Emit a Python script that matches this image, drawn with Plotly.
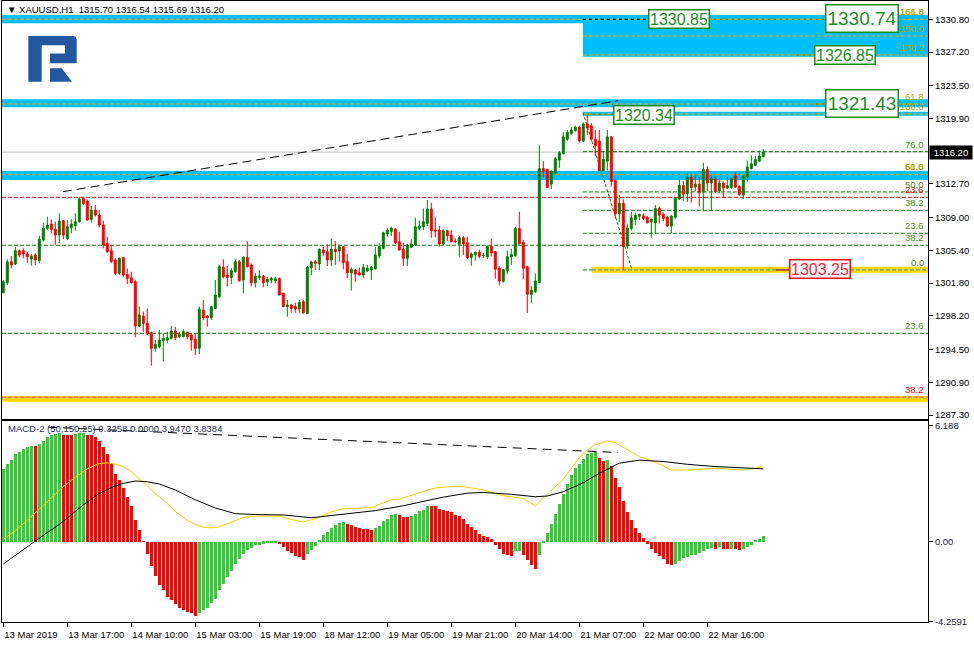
import plotly.graph_objects as go

# ---------------- DATA ----------------
opens = [1300.75,1301.84,1304.15,1303.90,1305.36,1305.36,1305.00,1304.45,1304.89,1304.26,
1306.53,1307.82,1308.29,1307.71,1307.08,1308.66,1306.68,1307.89,1308.11,1308.55,
1311.11,1310.82,1308.81,1309.83,1309.28,1308.18,1306.17,1305.36,1304.34,1302.87,
1304.59,1302.76,1302.39,1301.95,1297.08,1298.18,1297.37,1296.35,1294.63,1294.81,
1295.47,1295.54,1295.73,1296.53,1295.91,1295.91,1296.39,1296.09,1295.62,1294.63,
1298.84,1298.18,1298.03,1299.02,1300.31,1303.53,1302.69,1302.43,1303.05,1304.15,
1302.14,1304.63,1303.79,1301.84,1302.43,1302.58,1301.95,1302.14,1302.06,1302.32,
1300.67,1299.21,1299.39,1299.21,1298.95,1299.76,1298.47,1303.53,1304.15,1303.90,
1305.44,1305.25,1304.34,1305.51,1305.36,1305.80,1304.15,1302.94,1303.24,1302.94,
1302.69,1303.13,1303.24,1303.35,1304.78,1305.62,1307.19,1307.45,1307.74,1306.35,
1305.51,1304.52,1305.73,1305.99,1307.82,1308.00,1308.37,1309.94,1307.63,1307.63,
1306.10,1307.56,1307.08,1306.42,1306.06,1306.79,1306.24,1304.63,1304.93,1305.19,
1304.85,1304.70,1305.86,1305.26,1303.44,1302.00,1303.15,1304.70,1304.82,1307.79,
1306.30,1303.59,1300.55,1300.85,1301.85,1314.39,1314.28,1312.68,1313.91,1315.32,
1316.02,1317.62,1318.25,1318.55,1318.92,1317.43,1319.29,1319.10,1317.62,1317.43,
1314.17,1315.21,1317.88,1313.05,1309.45,1310.57,1305.86,1307.79,1308.79,1309.16,
1309.20,1309.05,1308.53,1308.42,1310.01,1309.38,1309.01,1308.08,1309.05,1311.05,
1312.53,1311.64,1313.43,1312.35,1312.68,1311.80,1314.28,1312.79,1313.24,1311.94,
1312.79,1312.24,1312.31,1313.61,1312.42,1311.50,1313.50,1314.39,1314.76,1315.21,
1315.70]
highs = [1302.14,1304.41,1304.78,1305.80,1305.51,1305.62,1305.25,1305.00,1305.07,1306.97,
1308.44,1309.10,1308.81,1308.55,1309.47,1308.73,1308.73,1308.81,1309.47,1311.22,
1311.30,1311.00,1310.27,1310.38,1309.83,1308.66,1306.90,1305.99,1304.52,1304.63,
1304.70,1303.42,1303.05,1302.14,1299.21,1298.66,1299.02,1296.46,1295.54,1296.64,
1296.28,1296.46,1297.08,1297.01,1296.46,1296.72,1296.46,1296.28,1296.28,1299.21,
1299.94,1298.29,1299.28,1302.14,1303.79,1304.41,1303.68,1303.42,1304.41,1304.34,
1304.78,1306.42,1303.97,1302.87,1303.24,1302.69,1302.50,1302.50,1302.50,1302.39,
1300.75,1299.94,1299.50,1299.65,1299.94,1299.94,1303.68,1304.26,1304.34,1305.62,
1305.80,1306.06,1306.72,1306.42,1306.06,1305.88,1305.00,1303.53,1303.31,1303.53,
1303.90,1303.79,1303.68,1305.80,1306.17,1307.45,1307.82,1308.00,1307.82,1307.45,
1306.24,1306.10,1306.61,1308.99,1308.66,1310.02,1310.93,1310.64,1309.03,1308.07,
1307.71,1307.63,1307.63,1306.72,1306.97,1306.97,1306.90,1305.19,1305.26,1305.48,
1305.11,1305.93,1306.67,1305.26,1303.70,1303.33,1305.37,1305.56,1307.97,1309.64,
1306.56,1303.70,1301.48,1302.85,1316.95,1315.21,1314.39,1314.20,1315.65,1316.32,
1318.36,1318.62,1318.92,1319.10,1319.10,1319.47,1320.34,1319.36,1318.62,1318.62,
1316.32,1318.62,1317.99,1313.17,1311.50,1311.00,1308.34,1309.64,1309.57,1309.45,
1309.45,1309.20,1308.90,1310.38,1310.20,1309.57,1309.20,1309.27,1311.20,1313.17,
1313.05,1313.91,1313.72,1313.72,1313.43,1315.02,1314.65,1313.72,1313.54,1313.17,
1312.98,1313.43,1313.43,1313.98,1312.54,1313.72,1315.28,1315.84,1315.76,1316.39,
1316.54]
lows = [1300.67,1301.59,1303.42,1303.79,1304.63,1304.52,1304.04,1303.71,1303.79,1303.97,
1306.35,1307.63,1307.27,1305.99,1306.17,1306.61,1306.53,1307.27,1307.56,1308.44,
1310.38,1308.66,1308.44,1309.10,1307.93,1305.62,1305.14,1304.04,1302.69,1302.69,
1302.50,1301.70,1301.77,1295.84,1297.01,1296.46,1296.09,1292.72,1294.26,1294.63,
1293.16,1295.18,1295.62,1295.54,1295.73,1295.84,1295.62,1294.37,1293.89,1294.00,
1297.74,1297.01,1297.74,1299.02,1300.12,1302.32,1301.41,1301.70,1302.94,1301.95,
1300.67,1303.53,1301.41,1301.33,1302.14,1301.33,1301.48,1301.77,1301.77,1300.45,
1299.13,1298.11,1298.55,1298.55,1298.55,1298.40,1298.47,1302.69,1303.24,1303.24,
1304.78,1303.68,1303.68,1303.79,1304.15,1303.31,1302.32,1300.97,1301.95,1302.69,
1302.32,1303.05,1302.14,1303.31,1304.52,1305.51,1306.90,1306.97,1306.10,1305.36,
1303.68,1303.68,1305.62,1305.88,1307.63,1307.63,1308.07,1306.79,1306.83,1305.80,
1305.99,1306.42,1306.28,1306.17,1304.70,1304.89,1304.45,1303.70,1304.26,1304.52,
1304.56,1304.45,1304.74,1302.29,1301.55,1301.85,1302.78,1303.81,1304.70,1306.04,
1302.22,1298.51,1299.62,1300.73,1301.85,1313.43,1312.24,1312.13,1313.72,1314.46,
1315.95,1317.43,1318.10,1318.47,1317.25,1317.32,1318.10,1317.43,1315.76,1314.09,
1314.09,1314.17,1312.42,1308.90,1308.53,1303.25,1305.56,1307.60,1308.16,1308.71,
1308.71,1308.34,1306.78,1307.23,1308.34,1308.60,1307.97,1307.30,1308.82,1310.94,
1310.83,1310.75,1310.64,1311.87,1310.27,1309.71,1311.87,1309.75,1311.68,1311.68,
1311.13,1312.13,1312.16,1312.24,1311.42,1311.01,1312.98,1314.28,1314.65,1315.13,
1315.69]
closes = [1301.95,1304.15,1303.79,1305.36,1304.89,1305.00,1304.70,1304.78,1304.34,1306.61,
1307.82,1308.18,1307.71,1307.08,1308.62,1307.08,1308.00,1308.29,1308.55,1311.04,
1310.56,1308.73,1309.83,1309.28,1308.18,1305.99,1305.25,1304.15,1302.87,1304.52,
1302.69,1302.32,1301.84,1297.08,1298.29,1297.37,1296.20,1294.63,1295.07,1295.54,
1295.73,1295.80,1296.53,1295.80,1296.17,1296.46,1295.91,1295.54,1294.63,1298.95,
1298.00,1298.03,1299.21,1300.49,1303.60,1302.50,1302.43,1303.16,1304.15,1302.06,
1304.63,1303.60,1301.84,1302.58,1302.58,1301.84,1302.21,1302.32,1302.28,1300.49,
1299.21,1299.39,1299.02,1298.95,1299.68,1298.55,1303.53,1304.12,1303.97,1305.51,
1305.14,1304.34,1305.51,1305.25,1305.80,1304.04,1302.94,1303.31,1302.80,1302.69,
1303.53,1303.42,1303.53,1304.89,1305.80,1307.34,1307.63,1307.82,1306.24,1305.44,
1304.52,1305.99,1306.10,1308.00,1308.07,1308.55,1309.94,1307.56,1307.52,1306.10,
1307.56,1307.01,1306.35,1306.35,1306.79,1306.10,1304.59,1305.00,1305.19,1304.74,
1304.85,1305.86,1305.11,1303.33,1302.03,1303.26,1304.70,1304.93,1307.79,1306.12,
1303.44,1300.55,1301.03,1302.03,1314.39,1314.09,1312.31,1314.09,1315.47,1316.13,
1317.88,1318.36,1318.62,1318.92,1317.43,1319.29,1318.84,1317.62,1316.88,1314.17,
1315.39,1317.88,1312.98,1309.45,1310.57,1305.80,1307.86,1308.97,1309.27,1309.34,
1308.90,1308.45,1308.79,1310.01,1309.27,1308.90,1308.08,1309.16,1311.13,1312.53,
1311.57,1313.43,1312.31,1312.68,1311.76,1314.28,1312.79,1313.28,1311.87,1312.79,
1312.24,1312.50,1313.28,1312.35,1311.50,1313.61,1314.54,1314.91,1315.36,1315.76,
1316.20]

macd_hist = [3.91,4.18,4.39,4.67,4.82,4.96,5.05,5.12,5.10,5.23,
5.40,5.58,5.72,5.75,5.81,5.72,5.71,5.70,5.75,5.82,
5.83,5.72,5.70,5.61,5.40,5.05,4.67,4.18,3.65,3.30,
2.86,2.42,1.93,1.19,0.63,0.05,-0.65,-1.26,-1.79,-2.28,
-2.58,-2.93,-3.11,-3.33,-3.51,-3.63,-3.72,-3.81,-3.93,-3.81,
-3.63,-3.51,-3.28,-3.05,-2.58,-2.23,-1.88,-1.53,-1.18,-0.91,
-0.65,-0.42,-0.30,-0.18,-0.14,-0.09,-0.05,-0.03,-0.02,-0.12,
-0.25,-0.47,-0.60,-0.74,-0.82,-0.95,-0.65,-0.42,-0.21,0.11,
0.35,0.53,0.74,0.88,1.02,1.05,0.98,0.91,0.81,0.75,
0.70,0.67,0.66,0.74,0.84,1.11,1.25,1.46,1.51,1.46,
1.35,1.34,1.36,1.51,1.63,1.72,1.93,1.92,1.91,1.77,
1.72,1.67,1.58,1.46,1.37,1.25,0.98,0.79,0.63,0.45,
0.32,0.25,0.16,-0.14,-0.39,-0.63,-0.68,-0.75,-0.50,-0.49,
-0.71,-0.98,-1.25,-1.46,-0.68,-0.04,0.48,0.95,1.50,2.00,
2.55,3.07,3.57,3.93,4.14,4.43,4.70,4.77,4.78,4.50,
4.34,4.38,4.05,3.39,2.91,2.18,1.61,1.16,0.75,0.50,
0.21,-0.09,-0.39,-0.57,-0.75,-0.93,-1.16,-1.25,-1.18,-1.04,
-0.86,-0.80,-0.68,-0.67,-0.57,-0.46,-0.39,-0.32,-0.39,-0.29,
-0.39,-0.40,-0.36,-0.37,-0.45,-0.39,-0.27,-0.14,0.07,0.18,
0.33]

macd_line_bar = [0,3,6,9,12,15,18,21,24,26,28,30,32,34,36,38,40,43,46,48,50,52,54,56,58,60,63,66,69,72,75,78,
82,85,89,92,97,99,104,108,112,114,117,120,125,130,133,136,140,144,146,148,151,153,155,159,163,167,172,178,185,188,190]
macd_line_val = [0.14,0.60,1.15,1.75,2.35,2.95,3.45,3.90,4.18,4.22,4.15,4.02,3.75,3.40,3.00,2.58,2.25,1.63,1.15,0.93,0.78,0.75,0.80,0.98,1.15,1.30,1.38,1.40,1.38,1.20,1.06,1.24,
1.60,1.77,1.80,1.83,2.25,2.28,2.63,2.88,2.95,2.98,2.88,2.77,2.47,2.32,1.93,2.55,3.35,4.50,4.90,5.18,5.39,5.30,5.05,4.55,4.25,3.84,3.84,3.93,3.84,3.93,4.05]

signal_bar = [0,4,8,11,14,17,20,24,27,30,33,36,39,43,48,53,58,63,70,77,85,93,100,106,110,116,120,127,133,136,140,145,149,154,159,165,171,178,184,190]
signal_val = [-1.18,-0.55,0.05,0.50,0.93,1.45,1.98,2.58,2.90,3.12,3.25,3.21,3.09,2.77,2.25,1.81,1.51,1.46,1.44,1.29,1.46,1.67,1.93,2.21,2.39,2.60,2.64,2.54,2.41,2.45,2.68,3.16,3.66,4.20,4.36,4.29,4.14,4.02,3.96,3.90]

tick_bars = [0,16,32,48,64,80,96,112,128,144,160,176]
tick_labels = ["13 Mar 2019","13 Mar 17:00","14 Mar 10:00","15 Mar 03:00","15 Mar 19:00","18 Mar 12:00",
               "19 Mar 05:00","19 Mar 21:00","20 Mar 14:00","21 Mar 07:00","22 Mar 00:00","22 Mar 16:00"]
price_ticks = [1330.80,1327.20,1323.50,1319.90,1312.70,1309.00,1305.40,1301.80,1298.20,1294.50,1290.90,1287.30]
macd_ticks = [6.188,0.0,-4.2591]
macd_tick_labels = ["6.188","0.00","-4.2591"]

last_price = 1316.20
header = "XAUUSD,H1  1315.70 1316.54 1315.69 1316.20"
macd_header = "MACD-2 (50,150,25) 0.3258 0.0000 3.9470 3.8384"

# horizontal levels: full-width (long-term tools) and right-hand (short-term tool)
full_levels = [1330.80, 1321.49, 1313.74, 1311.23, 1305.96, 1296.28, 1289.25]
full_labels = [["161.8","166.6"], ["61.8"], ["61.8","50.0"], ["23.6"], ["38.2"], ["23.6"], ["38.2"]]
part_levels = [1328.96, 1326.87, 1320.39, 1316.25, 1311.82, 1309.80, 1307.28, 1303.25]
part_labels = ["150.0", "138.2", "100.0", "76.0", "50.0", "38.2", "23.6", "0.0"]
full_bands = [(1330.36, 1331.27), (1321.13, 1322.01), (1313.13, 1314.12)]
gold_band_low = (1288.76, 1289.39)
part_box = (1326.69, 1331.27)
thin_band = (1320.20, 1320.64)
gold_band_fib = (1302.94, 1303.60)
fib_start_bar = 144.9
fib_high = 1320.34
fib_low = 1303.25
fib_low_bar = 157.2
trend_main = [(14.9, 1311.85), (153.7, 1321.85)]
trend_macd = [(11.2, 6.12), (153.7, 4.77)]
price_boxes = [("1330.85", 168.9, 1330.80, "s", "g"), ("1330.74", 214.6, 1330.89, "L", "g"),
               ("1326.85", 210.3, 1326.87, "s", "g"), ("1321.43", 214.7, 1321.49, "L", "g"),
               ("1320.34", 160.05, 1320.28, "s", "g"), ("1303.25", 204.2, 1303.30, "s", "r")]

# ---------------- LAYOUT GEOMETRY ----------------
W, H = 974, 648
ML, MR, MT, MB = 2, 46, 1, 26
PW, PH = W - ML - MR, H - MT - MB
def px(x):  # image pixel -> paper x
    return (x - ML) / PW
def py(y):  # image pixel -> paper y
    return (H - MB - y) / PH
def bar_of(xpix):
    return (xpix - 3.3) / 4.0

XR = [bar_of(ML), bar_of(W - MR)]
FONT = "Liberation Sans, Arial, sans-serif"
GREEN_C = "#008000"
RED_C = "#ff0000"
BLUE_BAND = "#00bfff"
GOLD = "#ffd700"
ORANGE = "#ffa500"
DGREEN = "#1f7a1f"
LBL_Y = "#b3a100"
LBL_G = "#4f8a1c"

n = len(opens)
xs = list(range(n))
hist_colors = ["#32cd32" if (i == 0 or macd_hist[i] >= macd_hist[i-1]) else RED_C for i in range(n)]

fig = go.Figure()
fig.add_trace(go.Candlestick(
    x=xs, open=opens, high=highs, low=lows, close=closes,
    increasing=dict(line=dict(color=GREEN_C, width=1), fillcolor=GREEN_C),
    decreasing=dict(line=dict(color=RED_C, width=1), fillcolor=RED_C),
    whiskerwidth=0, hoverinfo="skip", xaxis="x", yaxis="y", showlegend=False))
fig.add_trace(go.Bar(x=xs, y=macd_hist, marker=dict(color=hist_colors, line=dict(width=0)),
                     width=0.75, xaxis="x2", yaxis="y2", hoverinfo="skip", showlegend=False))
fig.add_trace(go.Scatter(x=macd_line_bar, y=macd_line_val, mode="lines",
                         line=dict(color="#ffcc00", width=1), xaxis="x2", yaxis="y2",
                         hoverinfo="skip", showlegend=False))
fig.add_trace(go.Scatter(x=signal_bar, y=signal_val, mode="lines",
                         line=dict(color="#000000", width=1), xaxis="x2", yaxis="y2",
                         hoverinfo="skip", showlegend=False))

shapes = []
def hrect(x0, x1, y0, y1, color, xref="x", yref="y"):
    shapes.append(dict(type="rect", xref=xref, yref=yref, x0=x0, x1=x1, y0=y0, y1=y1,
                       fillcolor=color, line=dict(width=0), layer="below"))
def hline(x0, x1, y, color, dash="4px,2px", width=1, xref="x", yref="y"):
    shapes.append(dict(type="line", xref=xref, yref=yref, x0=x0, x1=x1, y0=y, y1=y,
                       line=dict(color=color, width=width, dash=dash), layer="below"))

# bands
for lo, hi in full_bands:
    hrect(XR[0], XR[1], lo, hi, BLUE_BAND)
hrect(XR[0], XR[1], gold_band_low[0], gold_band_low[1], GOLD)
hrect(fib_start_bar, XR[1], part_box[0], part_box[1], BLUE_BAND)
hrect(fib_start_bar, XR[1], thin_band[0], thin_band[1], BLUE_BAND)
hrect(bar_of(592), XR[1], gold_band_fib[0], gold_band_fib[1], GOLD)

# current bid line
hline(XR[0], XR[1], last_price, "#c0c0c0", dash="solid")

# connectors to price boxes
hline(bar_of(709), bar_of(826), 1330.80, "#2e9e2e", dash="solid")
hline(bar_of(795), bar_of(814), 1326.87, "#2e9e2e", dash="solid")
hline(bar_of(812), bar_of(826), 1321.49, "#2e9e2e", dash="solid")
hline(bar_of(590), bar_of(613), 1320.34, "#2e9e2e", dash="solid")
hline(bar_of(776), bar_of(790), 1303.25, RED_C, dash="solid", width=1.5)

# full-width level lines
full_colors = [ORANGE, ORANGE, ORANGE, "#e01010", DGREEN, DGREEN, "#ff33cc"]
for lv, c in zip(full_levels, full_colors):
    hline(XR[0], XR[1], lv, c)
hline(fib_start_bar, bar_of(649), 1330.80, "#000000", dash="3px,3px")
# short-term fib lines
for lv in part_levels:
    if lv in (1328.96, 1326.87, 1320.39):
        hline(fib_start_bar, XR[1], lv, ORANGE)
    elif lv == fib_low:
        hline(fib_start_bar, bar_of(592), lv, DGREEN)
        hline(bar_of(592), XR[1], lv, "#1e90ff")
    else:
        hline(fib_start_bar, XR[1], lv, DGREEN)

# trend lines
shapes.append(dict(type="line", xref="x", yref="y", x0=trend_main[0][0], y0=trend_main[0][1],
                   x1=trend_main[1][0], y1=trend_main[1][1],
                   line=dict(color="#000000", width=1, dash="9px,5px"), layer="below"))
shapes.append(dict(type="line", xref="x", yref="y", x0=fib_start_bar, y0=fib_high + 0.2,
                   x1=fib_low_bar, y1=fib_low,
                   line=dict(color=GREEN_C, width=1, dash="3px,2px"), layer="below"))
shapes.append(dict(type="line", xref="x2", yref="y2", x0=trend_macd[0][0], y0=trend_macd[0][1],
                   x1=trend_macd[1][0], y1=trend_macd[1][1],
                   line=dict(color="#000000", width=1, dash="9px,6px"), layer="above"))

# logo (RoboForex style "R")
def path(points):
    s = "M " + " L ".join(f"{px(x):.5f},{py(y):.5f}" for x, y in points) + " Z"
    return s
logo_main = [(28.3, 36), (73.5, 36), (75.8, 37), (76.7, 39.5), (76.7, 63.3), (50, 63.3), (50, 53.5),
             (65, 53.5), (65, 45.3), (41.7, 45.3), (41.7, 81.7), (28.3, 81.7)]
logo_leg = [(50, 68.3), (61.7, 68.3), (72, 81.7), (50, 81.7)]
for pts in (logo_main, logo_leg):
    shapes.append(dict(type="path", xref="paper", yref="paper", path=path(pts),
                       fillcolor="#23579f", line=dict(width=0), layer="above"))

annotations = []
# header texts
annotations.append(dict(xref="paper", yref="paper", x=px(5), y=py(10), xanchor="left", yanchor="middle",
                        text="▼ " + header, showarrow=False,
                        font=dict(family=FONT, size=9.5, color="#000000")))
annotations.append(dict(xref="paper", yref="paper", x=px(6), y=py(429), xanchor="left", yanchor="middle",
                        text=macd_header, showarrow=False,
                        font=dict(family=FONT, size=9.5, color="#1f2f55")))
# level labels
lblx = px(926)
full_label_colors = [LBL_Y, LBL_Y, LBL_Y, RED_C, LBL_G, LBL_G, RED_C]
for lv, labs, c in zip(full_levels, full_labels, full_label_colors):
    for t in labs:
        annotations.append(dict(xref="paper", yref="y", x=lblx, y=lv, xanchor="right", yanchor="bottom",
                                text=t, showarrow=False, font=dict(family=FONT, size=9.5, color=c)))
for lv, t in zip(part_levels, part_labels):
    c = LBL_Y if lv in (1328.96, 1326.87, 1320.39) else LBL_G
    annotations.append(dict(xref="paper", yref="y", x=lblx, y=lv, xanchor="right", yanchor="bottom",
                            text=t, showarrow=False, font=dict(family=FONT, size=9.5, color=c)))
# price boxes
for t, bx, by, sz, col in price_boxes:
    c = "#1d8f1d" if col == "g" else "#ff1a3c"
    bc = "#1a8a1a" if col == "g" else "#ff0000"
    if sz == "L":
        f = dict(family=FONT, size=19, color=c)
        w, h = 69, 24
    else:
        f = dict(family=FONT, size=16, color=c)
        w, h = 57, 15
    annotations.append(dict(xref="x", yref="y", x=bx, y=by, xanchor="center", yanchor="middle",
                            text=t, showarrow=False, font=f, bgcolor="#ffffff",
                            bordercolor=bc, borderwidth=1.5, borderpad=1, width=w, height=h))
# current price box
annotations.append(dict(xref="paper", yref="y", x=1, y=last_price, xanchor="left", yanchor="middle",
                        xshift=1, text=f"{last_price:.2f}", showarrow=False, bgcolor="#000000",
                        font=dict(family=FONT, size=9.5, color="#ffffff"), borderpad=1, width=40))

main_dom = [py(419), 1]
macd_dom = [0, py(421)]
axis_common = dict(showgrid=False, zeroline=False, showline=True, linecolor="#000000",
                   linewidth=1, mirror=True, automargin=False)
fig.update_layout(
    width=W, height=H, margin=dict(l=ML, r=MR, t=MT, b=MB, autoexpand=False),
    paper_bgcolor="#ffffff", plot_bgcolor="#ffffff",
    showlegend=False, hovermode=False, bargap=0,
    font=dict(family=FONT, size=9.5, color="#000000"),
    xaxis=dict(domain=[0, 1], anchor="y", range=XR, showticklabels=False, ticks="",
               rangeslider=dict(visible=False), **axis_common),
    yaxis=dict(domain=main_dom, anchor="x", side="right", range=[1286.86, 1332.81],
               tickvals=price_ticks, ticktext=[f"{v:.2f}" for v in price_ticks],
               ticks="outside", ticklen=4, tickcolor="#000000",
               tickfont=dict(family=FONT, size=9.5, color="#000000"), **axis_common),
    xaxis2=dict(domain=[0, 1], anchor="y2", range=XR, matches="x",
                tickvals=tick_bars, ticktext=tick_labels, ticks="outside", ticklen=4,
                tickcolor="#000000", ticklabelposition="outside right", tickangle=0,
                ticklabelstandoff=4,
                tickfont=dict(family=FONT, size=9.5, color="#000000"),
                rangeslider=dict(visible=False), **axis_common),
    yaxis2=dict(domain=macd_dom, anchor="x2", side="right", range=[-4.27, 6.45],
                tickvals=macd_ticks, ticktext=macd_tick_labels, ticks="outside", ticklen=4,
                tickcolor="#000000", tickfont=dict(family=FONT, size=9.5, color="#1a1a33"),
                **axis_common),
    shapes=shapes, annotations=annotations,
)
fig.write_html("out.html", config={"displayModeBar": False},
               post_script="document.body.style.margin='0';document.body.style.padding='0';")
